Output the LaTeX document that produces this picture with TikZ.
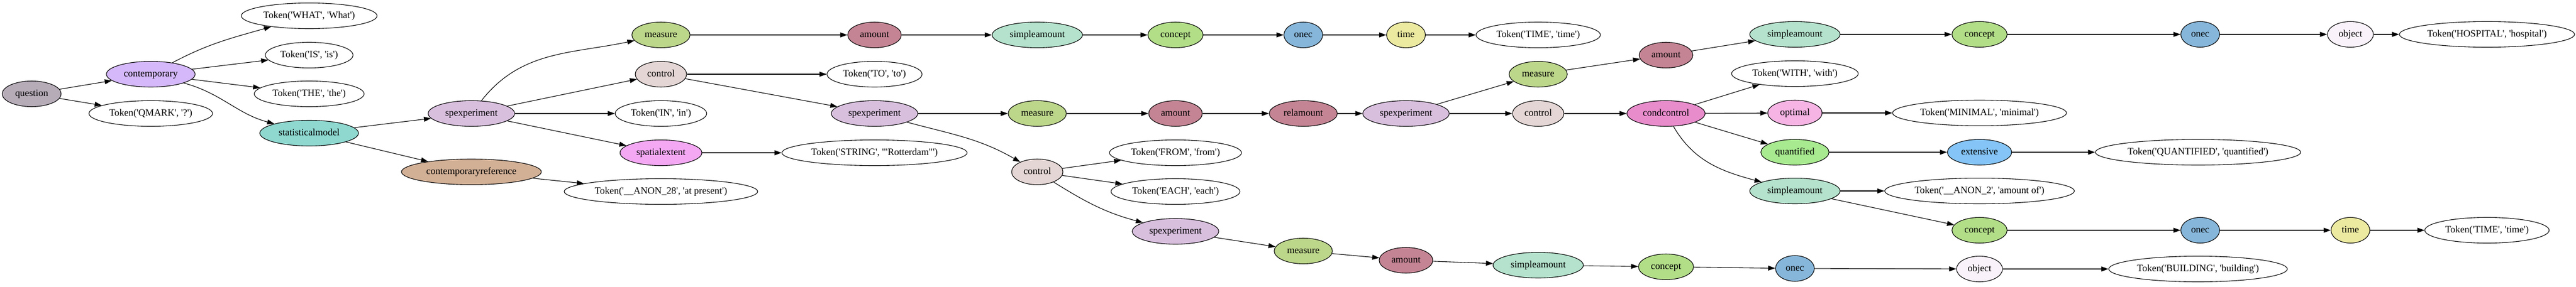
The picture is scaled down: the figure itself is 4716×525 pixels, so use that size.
\documentclass[tikz,border=0pt]{standalone}
\usepackage{fontspec}
\usepackage{xcolor}
\usepackage{tikz}
\newfontfamily\gvfont{Liberation Serif}
\usetikzlibrary{shapes.geometric,arrows.meta}

% node colours
\definecolor{cQuestion}{HTML}{B6ACB8}
\definecolor{cContemp}{HTML}{D4B8FA}
\definecolor{cStatModel}{HTML}{8ED8D0}
\definecolor{cSpexp}{HTML}{D8BFDE}
\definecolor{cContRef}{HTML}{D2B096}
\definecolor{cMeasure}{HTML}{BCD68A}
\definecolor{cControl}{HTML}{E4D6D4}
\definecolor{cSpatial}{HTML}{F4A8F4}
\definecolor{cAmount}{HTML}{C48494}
\definecolor{cSimple}{HTML}{B4E2CC}
\definecolor{cConcept}{HTML}{B2DE88}
\definecolor{cOnec}{HTML}{86B6DA}
\definecolor{cTime}{HTML}{ECEAA0}
\definecolor{cCondCtrl}{HTML}{E88CCC}
\definecolor{cOptimal}{HTML}{F6B4E4}
\definecolor{cQuant}{HTML}{A8EA90}
\definecolor{cExtensive}{HTML}{84C4F6}
\definecolor{cObject}{HTML}{FAF2FA}

\begin{document}
\begin{tikzpicture}[x=1pt,y=1pt,
  gv/.style={ellipse, draw, line width=1.1pt, minimum height=47pt, minimum width=71pt,
    inner ysep=2pt, text height=12.5pt, text depth=4pt,
    font=\gvfont\fontsize{17.8pt}{20pt}\selectfont},
  tok/.style={gv, fill=white, inner xsep=4pt},
  nt/.style={gv, fill=#1, inner xsep=8pt},
  edge/.style={line width=1.1pt, -{Triangle[length=13pt,width=9pt]}}]
\useasboundingbox (0,0) rectangle (4716,-525);

% rank 0 and 1
\node[nt=cQuestion] (question) at (58,-172) {question};
\node[nt=cContemp] (contemp) at (276,-136) {contemporary};
\node[tok] (qmark) at (276,-208) {Token('QMARK', '?')};

% rank 2
\node[tok] (tWhat) at (566,-29) {Token('WHAT', 'What')};
\node[tok] (tIs) at (566,-101) {Token('IS', 'is')};
\node[tok] (tThe) at (566,-172) {Token('THE', 'the')};
\node[nt=cStatModel] (statmodel) at (566,-244) {statisticalmodel};

% rank 3
\node[nt=cSpexp] (spexpA) at (863,-208) {spexperiment};
\node[nt=cContRef] (contref) at (863,-315) {contemporaryreference};

% rank 4
\node[nt=cMeasure] (measA) at (1210,-64) {measure};
\node[nt=cControl] (ctrlA) at (1210,-136) {control};
\node[tok] (tIn) at (1210,-208) {Token('IN', 'in')};
\node[nt=cSpatial] (spatext) at (1210,-280) {spatialextent};
\node[tok] (tAnonA) at (1210,-351) {Token('\_\_ANON\_28', 'at present')};

% rank 5
\node[nt=cAmount] (amtA) at (1601,-64) {amount};
\node[tok] (tTo) at (1601,-136) {Token('TO', 'to')};
\node[nt=cSpexp] (spexpB) at (1601,-208) {spexperiment};
\node[tok] (tString) at (1601,-280) {Token('STRING', '"Rotterdam"')};

% rank 6
\node[nt=cSimple] (samtA) at (1899,-64) {simpleamount};
\node[nt=cMeasure] (measB) at (1899,-208) {measure};
\node[nt=cControl] (ctrlB) at (1899,-315) {control};

% rank 7
\node[nt=cConcept] (conA) at (2152,-64) {concept};
\node[nt=cAmount] (amtB) at (2152,-208) {amount};
\node[tok] (tFrom) at (2152,-280) {Token('FROM', 'from')};
\node[tok] (tEach) at (2152,-351) {Token('EACH', 'each')};
\node[nt=cSpexp] (spexpC) at (2152,-424) {spexperiment};

% rank 8
\node[nt=cOnec] (onecA) at (2386,-64) {onec};
\node[nt=cAmount] (relamt) at (2386,-208) {relamount};
\node[nt=cMeasure] (measD) at (2386,-460) {measure};

% rank 9
\node[nt=cTime] (timeA) at (2574,-64) {time};
\node[nt=cSpexp] (spexpD) at (2574,-208) {spexperiment};
\node[nt=cAmount] (amtD) at (2574,-477) {amount};

% rank 10
\node[tok] (tTimeA) at (2816,-64) {Token('TIME', 'time')};
\node[nt=cMeasure] (measC) at (2816,-136) {measure};
\node[nt=cControl] (ctrlC) at (2816,-208) {control};
\node[nt=cSimple] (samtD) at (2816,-486) {simpleamount};

% rank 11
\node[nt=cAmount] (amtC) at (3050,-101) {amount};
\node[nt=cCondCtrl] (condctrl) at (3050,-208) {condcontrol};
\node[nt=cConcept] (conD) at (3050,-489) {concept};

% rank 12
\node[nt=cSimple] (samtB) at (3286,-63) {simpleamount};
\node[tok] (tWith) at (3286,-135) {Token('WITH', 'with')};
\node[nt=cOptimal] (optimal) at (3286,-207) {optimal};
\node[nt=cQuant] (quantified) at (3286,-279) {quantified};
\node[nt=cSimple] (samtC) at (3286,-350) {simpleamount};
\node[nt=cOnec] (onecD) at (3286,-492) {onec};

% rank 13
\node[nt=cConcept] (conB) at (3624,-63) {concept};
\node[tok] (tMinimal) at (3624,-207) {Token('MINIMAL', 'minimal')};
\node[nt=cExtensive] (extensive) at (3624,-279) {extensive};
\node[tok] (tAnonB) at (3624,-350) {Token('\_\_ANON\_2', 'amount of')};
\node[nt=cConcept] (conC) at (3624,-422) {concept};
\node[nt=cObject] (objB) at (3624,-493) {object};

% rank 14
\node[nt=cOnec] (onecB) at (4028,-63) {onec};
\node[tok] (tQuant) at (4024,-279) {Token('QUANTIFIED', 'quantified')};
\node[nt=cOnec] (onecC) at (4028,-422) {onec};
\node[tok] (tBuilding) at (4024,-493) {Token('BUILDING', 'building')};

% rank 15 and 16
\node[nt=cObject] (objA) at (4303,-63) {object};
\node[nt=cTime] (timeB) at (4303,-422) {time};
\node[tok] (tHospital) at (4553,-63) {Token('HOSPITAL', 'hospital')};
\node[tok] (tTimeB) at (4553,-422) {Token('TIME', 'time')};

% Edges: question / contemporary
\draw[edge] (question) -- (contemp);
\draw[edge] (question) -- (qmark);
\draw[edge] (contemp) to[out=28,in=196] (tWhat);
\draw[edge] (contemp) -- (tIs);
\draw[edge] (contemp) -- (tThe);
\draw[edge] (contemp) to[out=-15,in=165] (statmodel);
\draw[edge] (statmodel) -- (spexpA);
\draw[edge] (statmodel) -- (contref);
\draw[edge] (contref) -- (tAnonA);

% Edges: first spexperiment
\draw[edge] (spexpA) to[out=52,in=192] (measA);
\draw[edge] (spexpA) -- (ctrlA);
\draw[edge] (spexpA) -- (tIn);
\draw[edge] (spexpA) -- (spatext);
\draw[edge] (spatext) -- (tString);
\draw[edge] (ctrlA) -- (tTo);
\draw[edge] (ctrlA) -- (spexpB);

% Edges: top chain
\draw[edge] (measA) -- (amtA);
\draw[edge] (amtA) -- (samtA);
\draw[edge] (samtA) -- (conA);
\draw[edge] (conA) -- (onecA);
\draw[edge] (onecA) -- (timeA);
\draw[edge] (timeA) -- (tTimeA);

% Edges: second spexperiment
\draw[edge] (spexpB) -- (measB);
\draw[edge] (measB) -- (amtB);
\draw[edge] (amtB) -- (relamt);
\draw[edge] (relamt) -- (spexpD);
\draw[edge] (spexpB) to[out=-15,in=150] (ctrlB);
\draw[edge] (ctrlB) -- (tFrom);
\draw[edge] (ctrlB) -- (tEach);
\draw[edge] (ctrlB) to[out=-32,in=165] (spexpC);

% Edges: bottom chain
\draw[edge] (spexpC) -- (measD);
\draw[edge] (measD) -- (amtD);
\draw[edge] (amtD) -- (samtD);
\draw[edge] (samtD) -- (conD);
\draw[edge] (conD) -- (onecD);
\draw[edge] (onecD) -- (objB);
\draw[edge] (objB) -- (tBuilding);

% Edges: relative spexperiment
\draw[edge] (spexpD) -- (measC);
\draw[edge] (spexpD) -- (ctrlC);
\draw[edge] (measC) -- (amtC);
\draw[edge] (amtC) -- (samtB);
\draw[edge] (samtB) -- (conB);
\draw[edge] (conB) -- (onecB);
\draw[edge] (onecB) -- (objA);
\draw[edge] (objA) -- (tHospital);
\draw[edge] (ctrlC) -- (condctrl);

% Edges: condcontrol
\draw[edge] (condctrl) -- (tWith);
\draw[edge] (condctrl) -- (optimal);
\draw[edge] (condctrl) -- (quantified);
\draw[edge] (condctrl) to[out=-60,in=165] (samtC);
\draw[edge] (optimal) -- (tMinimal);
\draw[edge] (quantified) -- (extensive);
\draw[edge] (extensive) -- (tQuant);
\draw[edge] (samtC) -- (tAnonB);
\draw[edge] (samtC) -- (conC);
\draw[edge] (conC) -- (onecC);
\draw[edge] (onecC) -- (timeB);
\draw[edge] (timeB) -- (tTimeB);

\end{tikzpicture}
\end{document}
